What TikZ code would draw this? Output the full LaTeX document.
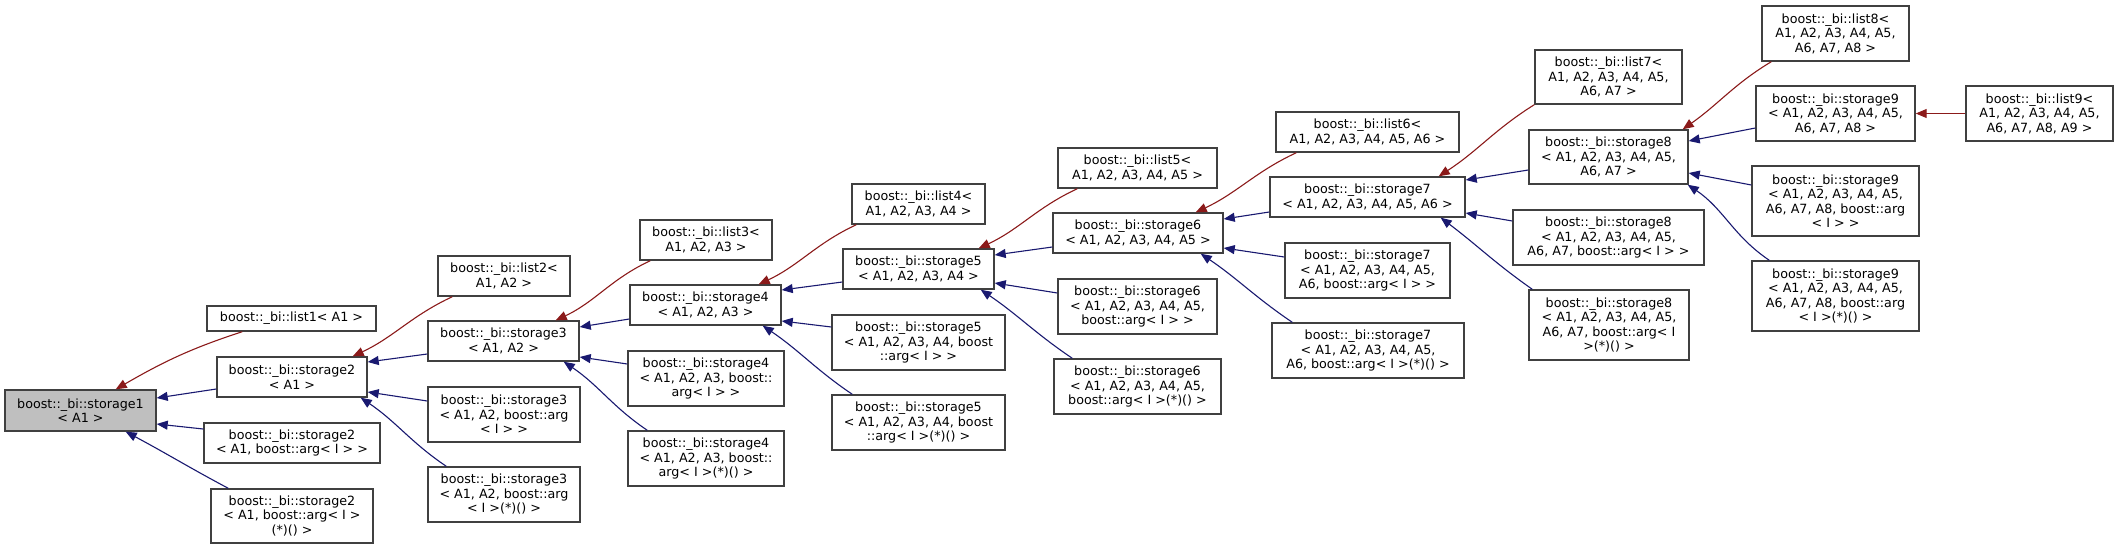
\documentclass[tikz,border=0pt]{standalone}
\usepackage{fontspec}
\setmainfont{DejaVu Sans}
\usepackage{xcolor}
\usetikzlibrary{arrows.meta}
\definecolor{pubblue}{HTML}{191970}
\definecolor{privred}{HTML}{8B1A1A}
\definecolor{boxline}{HTML}{404040}
\definecolor{basegray}{HTML}{BFBFBF}

\begin{document}
\begin{tikzpicture}[x=1pt, y=1pt,
    cls/.style={draw=boxline, line width=1.4pt, fill=white, inner sep=0pt, align=center,
        font=\fontsize{12.7}{14.5}\selectfont},
    pub/.style={color=pubblue, line width=1.1pt, -{Triangle[length=11pt, width=9pt]}},
    priv/.style={color=privred, line width=1.1pt, -{Triangle[length=11pt, width=9pt]}}]

    \useasboundingbox (0,0) rectangle (2119,-549);

    % Level 1
    \node[cls, fill=basegray, minimum width=151, minimum height=41] (s1) at (80.5,-410.5) {boost::\_bi::storage1\\< A1 >};
    \node[cls, minimum width=169, minimum height=25] (l1) at (291.5,-318.5) {boost::\_bi::list1< A1 >};
    \node[cls, minimum width=150, minimum height=40] (s2) at (292,-377) {boost::\_bi::storage2\\< A1 >};
    \node[cls, minimum width=176, minimum height=40] (s2a) at (292,-443) {boost::\_bi::storage2\\< A1, boost::arg< I > >};
    \node[cls, minimum width=162, minimum height=54] (s2f) at (292,-516) {boost::\_bi::storage2\\< A1, boost::arg< I >\\(*)() >};

    % Level 2
    \node[cls, minimum width=132, minimum height=40] (l2) at (504,-276) {boost::\_bi::list2<\\A1, A2 >};
    \node[cls, minimum width=151, minimum height=40] (s3) at (503.5,-341) {boost::\_bi::storage3\\< A1, A2 >};
    \node[cls, minimum width=152, minimum height=55] (s3a) at (504,-414.5) {boost::\_bi::storage3\\< A1, A2, boost::arg\\< I > >};
    \node[cls, minimum width=152, minimum height=55] (s3f) at (504,-494.5) {boost::\_bi::storage3\\< A1, A2, boost::arg\\< I >(*)() >};

    % Level 3
    \node[cls, minimum width=132, minimum height=40] (l3) at (706,-240) {boost::\_bi::list3<\\A1, A2, A3 >};
    \node[cls, minimum width=151, minimum height=40] (s4) at (705.5,-305) {boost::\_bi::storage4\\< A1, A2, A3 >};
    \node[cls, minimum width=156, minimum height=55] (s4a) at (706,-378.5) {boost::\_bi::storage4\\< A1, A2, A3, boost::\\arg< I > >};
    \node[cls, minimum width=156, minimum height=55] (s4f) at (706,-458.5) {boost::\_bi::storage4\\< A1, A2, A3, boost::\\arg< I >(*)() >};

    % Level 4
    \node[cls, minimum width=133, minimum height=40] (l4) at (918.5,-204) {boost::\_bi::list4<\\A1, A2, A3, A4 >};
    \node[cls, minimum width=151, minimum height=40] (s5) at (918.5,-269) {boost::\_bi::storage5\\< A1, A2, A3, A4 >};
    \node[cls, minimum width=173, minimum height=55] (s5a) at (918.5,-342.5) {boost::\_bi::storage5\\< A1, A2, A3, A4, boost\\::arg< I > >};
    \node[cls, minimum width=173, minimum height=55] (s5f) at (918.5,-422.5) {boost::\_bi::storage5\\< A1, A2, A3, A4, boost\\::arg< I >(*)() >};

    % Level 5
    \node[cls, minimum width=159, minimum height=40] (l5) at (1137.5,-168) {boost::\_bi::list5<\\A1, A2, A3, A4, A5 >};
    \node[cls, minimum width=170, minimum height=40] (s6) at (1138,-233) {boost::\_bi::storage6\\< A1, A2, A3, A4, A5 >};
    \node[cls, minimum width=159, minimum height=55] (s6a) at (1137.5,-306.5) {boost::\_bi::storage6\\< A1, A2, A3, A4, A5,\\boost::arg< I > >};
    \node[cls, minimum width=167, minimum height=55] (s6f) at (1137.5,-386.5) {boost::\_bi::storage6\\< A1, A2, A3, A4, A5,\\boost::arg< I >(*)() >};

    % Level 6
    \node[cls, minimum width=183, minimum height=40] (l6) at (1367.5,-132) {boost::\_bi::list6<\\A1, A2, A3, A4, A5, A6 >};
    \node[cls, minimum width=195, minimum height=40] (s7) at (1367.5,-197) {boost::\_bi::storage7\\< A1, A2, A3, A4, A5, A6 >};
    \node[cls, minimum width=165, minimum height=55] (s7a) at (1367.5,-270.5) {boost::\_bi::storage7\\< A1, A2, A3, A4, A5,\\A6, boost::arg< I > >};
    \node[cls, minimum width=192, minimum height=55] (s7f) at (1368,-350.5) {boost::\_bi::storage7\\< A1, A2, A3, A4, A5,\\A6, boost::arg< I >(*)() >};

    % Level 7
    \node[cls, minimum width=147, minimum height=54] (l7) at (1608.5,-77) {boost::\_bi::list7<\\A1, A2, A3, A4, A5,\\A6, A7 >};
    \node[cls, minimum width=159, minimum height=54] (s8) at (1608.5,-157) {boost::\_bi::storage8\\< A1, A2, A3, A4, A5,\\A6, A7 >};
    \node[cls, minimum width=191, minimum height=55] (s8a) at (1608.5,-237.5) {boost::\_bi::storage8\\< A1, A2, A3, A4, A5,\\A6, A7, boost::arg< I > >};
    \node[cls, minimum width=160, minimum height=70] (s8f) at (1609,-325) {boost::\_bi::storage8\\< A1, A2, A3, A4, A5,\\A6, A7, boost::arg< I\\>(*)() >};

    % Level 8
    \node[cls, minimum width=147, minimum height=55] (l8) at (1835.5,-33.5) {boost::\_bi::list8<\\A1, A2, A3, A4, A5,\\A6, A7, A8 >};
    \node[cls, minimum width=159, minimum height=55] (s9) at (1835.5,-113.5) {boost::\_bi::storage9\\< A1, A2, A3, A4, A5,\\A6, A7, A8 >};
    \node[cls, minimum width=167, minimum height=70] (s9a) at (1835.5,-201) {boost::\_bi::storage9\\< A1, A2, A3, A4, A5,\\A6, A7, A8, boost::arg\\< I > >};
    \node[cls, minimum width=167, minimum height=70] (s9f) at (1835.5,-296) {boost::\_bi::storage9\\< A1, A2, A3, A4, A5,\\A6, A7, A8, boost::arg\\< I >(*)() >};
    \node[cls, minimum width=147, minimum height=55] (l9) at (2039.5,-113.5) {boost::\_bi::list9<\\A1, A2, A3, A4, A5,\\A6, A7, A8, A9 >};

    % Edges into storage1
    \draw[priv] ([xshift=36]l1.south west) to[out=198, in=30] ([xshift=-41]s1.north east);
    \draw[pub] ([yshift=-12]s2.west) -- ([yshift=12.5]s1.east);
    \draw[pub] ([yshift=14]s2a.west) -- ([yshift=-13.5]s1.east);
    \draw[pub] ([xshift=18]s2f.north west) to[out=152, in=-28] ([xshift=-31]s1.south east);

    % Edges into storage2
    \draw[priv] ([xshift=15]l2.south west) to[out=205, in=25] ([xshift=-15]s2.north east);
    \draw[pub] ([yshift=-13]s3.west) -- ([yshift=15]s2.east);
    \draw[pub] ([yshift=13.5]s3a.west) -- ([yshift=-15]s2.east);
    \draw[pub] ([xshift=19]s3f.north west) to[out=146, in=-34] ([xshift=-7]s2.south east);

    % Edges into storage3
    \draw[priv] ([xshift=11]l3.south west) to[out=205, in=25] ([xshift=-24]s3.north east);
    \draw[pub] ([yshift=-14]s4.west) -- ([yshift=14]s3.east);
    \draw[pub] ([yshift=14.5]s4a.west) -- ([yshift=-16]s3.east);
    \draw[pub] ([xshift=20]s4f.north west) to[out=146, in=-34] ([xshift=-16]s3.south east);

    % Edges into storage4
    \draw[priv] ([xshift=5]l4.south west) to[out=205, in=25] ([xshift=-23]s4.north east);
    \draw[pub] ([yshift=-13]s5.west) -- ([yshift=15]s4.east);
    \draw[pub] ([yshift=15.5]s5a.west) -- ([yshift=-16]s4.east);
    \draw[pub] ([xshift=21]s5f.north west) to[out=146, in=-34] ([xshift=-19]s4.south east);

    % Edges into storage5
    \draw[priv] ([xshift=20]l5.south west) to[out=205, in=25] ([xshift=-16]s5.north east);
    \draw[pub] ([yshift=-14]s6.west) -- ([yshift=14]s5.east);
    \draw[pub] ([yshift=13.5]s6a.west) -- ([yshift=-14]s5.east);
    \draw[pub] ([xshift=19]s6f.north west) to[out=146, in=-34] ([xshift=-14]s5.south east);

    % Edges into storage6
    \draw[priv] ([xshift=21]l6.south west) to[out=205, in=25] ([xshift=-28]s6.north east);
    \draw[pub] ([yshift=-15]s7.west) -- ([yshift=14]s6.east);
    \draw[pub] ([yshift=13.5]s7a.west) -- ([yshift=-15]s6.east);
    \draw[pub] ([xshift=21]s7f.north west) to[out=146, in=-34] ([xshift=-23]s6.south east);

    % Edges into storage7
    \draw[priv] (l7.south west) to[out=212, in=33] ([xshift=-27]s7.north east);
    \draw[pub] ([yshift=-13]s8.west) -- ([yshift=17]s7.east);
    \draw[pub] ([yshift=16.5]s8a.west) -- ([yshift=-16]s7.east);
    \draw[pub] ([xshift=4]s8f.north west) to[out=145, in=-37] ([xshift=-25]s7.south east);

    % Edges into storage8 and storage9
    \draw[priv] ([xshift=10]l8.south west) to[out=211, in=35] ([xshift=-6]s8.north east);
    \draw[pub] ([yshift=-14.5]s9.west) -- ([yshift=16]s8.east);
    \draw[pub] ([yshift=16]s9a.west) -- ([yshift=-16]s8.east);
    \draw[pub] ([xshift=18]s9f.north west) to[out=146, in=-34] ([xshift=-1]s8.south east);
    \draw[priv] (l9.west) -- (s9.east);

\end{tikzpicture}
\end{document}
